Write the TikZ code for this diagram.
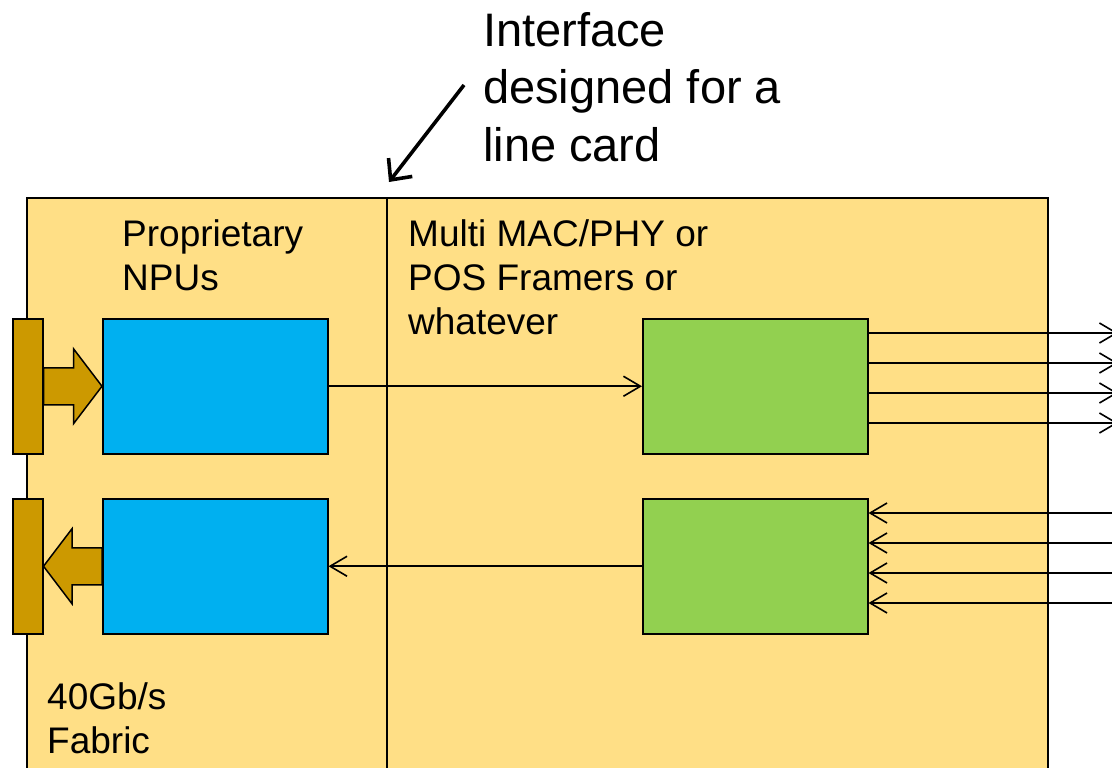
\documentclass[tikz,border=0pt]{standalone}
\usepackage{fontspec}
\setmainfont{Liberation Sans}
\usetikzlibrary{arrows.meta,calc}
\definecolor{cardbg}{HTML}{FFDF86}
\definecolor{fabricc}{HTML}{CC9900}
\definecolor{npublue}{HTML}{00B0F0}
\definecolor{phygreen}{HTML}{92D050}
\tikzset{
  card/.style={draw=black, line width=1.6pt, fill=cardbg},
  fabricbar/.style={draw=black, line width=1.5pt, fill=fabricc, inner sep=0pt,
    minimum width=30pt, minimum height=135pt, anchor=north west},
  chip/.style={draw=black, line width=1.5pt, inner sep=0pt,
    minimum width=225pt, minimum height=135pt, anchor=north west},
  npu/.style={chip, fill=npublue},
  phy/.style={chip, fill=phygreen},
  blockarrow/.style={draw=black, line width=1.5pt, fill=fabricc, line join=miter},
  link/.style={line width=1.6pt, -{Straight Barb[length=17pt,width=20pt]}},
  pointer/.style={line width=3.6pt, -{Straight Barb[length=16pt,width=30pt]}},
  label/.style={align=left, inner sep=0pt, anchor=north west,
    font=\fontsize{37}{44}\selectfont},
  biglabel/.style={align=left, inner sep=0pt, anchor=north west,
    font=\fontsize{47}{57.5}\selectfont},
}
\begin{document}
\begin{tikzpicture}[x=1pt,y=-1pt]
\useasboundingbox (0,0) rectangle (1112,768);
\clip (0,0) rectangle (1112,768);

% line card outline and the interface boundary
\draw[card] (27,198) rectangle (1048,780);
\coordinate (divtop) at (387,198);
\coordinate (divbot) at (387,780);
\draw[line width=1.6pt] (divtop) -- (divbot);

% fabric connectors
\node[fabricbar] (fab1) at (12,318) {};
\node[fabricbar] (fab2) at (12,498) {};

% NPUs and MAC/PHY devices
\node[npu] (npu1) at (102,318) {};
\node[npu] (npu2) at (102,498) {};
\node[phy] (phy1) at (642,318) {};
\node[phy] (phy2) at (642,498) {};

% fabric block arrows
\draw[blockarrow] ($(fab1.east)+(0,-18.5)$) -- ++(30,0) -- ++(0,-19)
  -- (npu1.west) -- ($(fab1.east)+(30,37.5)$) -- ++(0,-19) -- ($(fab1.east)+(0,18.5)$) -- cycle;
\draw[blockarrow] ($(npu2.west)+(0,-18.5)$) -- ++(-30,0) -- ++(0,-19)
  -- (fab2.east) -- ($(npu2.west)+(-30,37.5)$) -- ++(0,-19) -- ($(npu2.west)+(0,18.5)$) -- cycle;

% data path between NPUs and PHYs
\draw[link] (npu1.east) -- (phy1.west);
\draw[link] (phy2.west) -- (npu2.east);

% line-side ports
\foreach \i in {1,...,4} {
  \coordinate (out\i) at ($(phy1.north east)+(0,-15+30*\i)$);
  \coordinate (outend\i) at (1118,{303+30*\i});
  \draw[link] (out\i) -- (outend\i);
  \coordinate (in\i) at ($(phy2.north east)+(0,-15+30*\i)$);
  \coordinate (instart\i) at (1116,{483+30*\i});
  \draw[link] (instart\i) -- (in\i);
}

% labels
\node[biglabel] (iface) at (483,12) {Interface\\designed for a\\line card};
\coordinate (ptrstart) at (464,85);
\coordinate (ptrtip) at (389,182);
\draw[pointer] (ptrstart) -- (ptrtip);

\node[label] (npulbl) at (122,219) {Proprietary\\NPUs};
\node[label] (phylbl) at (408,219) {Multi MAC/PHY or\\POS Framers or\\whatever};
\node[label] (fablbl) at (47,682) {40Gb/s\\Fabric};
\end{tikzpicture}
\end{document}
